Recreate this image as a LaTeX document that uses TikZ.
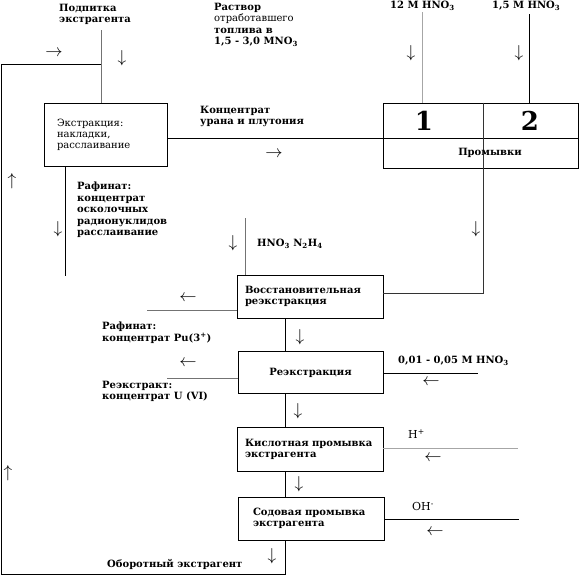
\documentclass[tikz,border=0pt]{standalone}
\usepackage{fontspec}
\setmainfont{DejaVu Serif}
\usetikzlibrary{positioning,calc}
\newcommand{\sbs}[1]{\textsubscript{#1}}
\tikzset{
  proc/.style={draw,line width=0.8pt,minimum height=43pt,inner xsep=8pt,inner ysep=0pt,text width=130pt,align=left,font=\fontsize{10}{11}\selectfont\bfseries},
  lbl/.style={inner sep=0pt,align=left,anchor=north west,font=\fontsize{10}{11.5}\selectfont\bfseries},
  ln/.style={line width=0.8pt},
  lnl/.style={line width=0.6pt,black!55},
  dir/.style={inner sep=0pt,font=\fontsize{16}{16}\selectfont},
  num/.style={inner sep=0pt,font=\fontsize{26}{26}\selectfont\bfseries},
}
\begin{document}
\begin{tikzpicture}[x=1pt,y=-1pt]
\useasboundingbox (0,0) rectangle (580,576);
% process boxes
\node[proc,minimum height=63pt,text width=97pt,inner xsep=13pt,font=\fontsize{10}{11}\selectfont] (extr) at (105.5,134.5) {Экстракция:\\накладки,\\расслаивание};
\node[draw,line width=0.8pt,minimum width=195pt,minimum height=65pt,inner sep=0pt] (wash) at (480.5,135.5) {};
\node[proc] (vos) at (310,296.5) {Восстановительная\\реэкстракция};
\node[proc,align=center,minimum height=42pt,text width=129pt] (reex) at (310.5,372.5) {Реэкстракция};
\node[proc,minimum height=44pt] (kisl) at (310,449) {Кислотная промывка\\экстрагента};
\node[proc,inner xsep=15pt,text width=116pt] (soda) at (311,518.5) {Содовая промывка\\экстрагента};
% washing columns
\coordinate (wy) at (0,138); \coordinate (wk) at (483,293);
\draw[ln] (wash.west |- wy) -- (wash.east |- wy);
\draw[ln,black!80] (wash.north -| wk) -- (wk) -- (vos.east |- wk);
\node[num] (n1) at (424,121) {1}; \node[num] (n2) at (530,121) {2};
\node[lbl,anchor=center] (wlbl) at (490,153) {Промывки};
% flows
\coordinate (feed) at (101,30); \coordinate (ret) at (101,64);
\coordinate (lpTop) at (1,64); \coordinate (lpBot) at (1,574); \coordinate (spBot) at (285,574); \coordinate (spine) at (285,0);
\draw[lnl] (feed) -- (extr.north -| feed);
\draw[ln] (ret) -- (lpTop) -- (lpBot) -- (spBot) -- (soda.south -| spBot);
\draw[ln] (vos.south -| spine) -- (reex.north -| spine);
\draw[ln] (reex.south -| spine) -- (kisl.north -| spine);
\draw[ln] (kisl.south -| spine) -- (soda.north -| spine);
\draw[ln] (extr.east |- wy) -- (wash.west |- wy);
\coordinate (a12) at (422,12); \coordinate (a15) at (529,14);
\draw[line width=0.5pt,black!35] (a12) -- (wash.north -| a12);
\draw[ln] (a15) -- (wash.north -| a15);
\coordinate (raf) at (65,276); \draw[ln] (extr.south -| raf) -- (raf);
\coordinate (red) at (245,218); \draw[lnl] (red) -- (vos.north -| red);
\coordinate (pu) at (147,310); \draw[lnl] (vos.west |- pu) -- (pu);
\coordinate (uo) at (167,378); \draw[lnl] (reex.west |- uo) -- (uo);
\coordinate (st) at (478,373); \draw[ln] (reex.east |- st) -- (st);
\coordinate (hp) at (518,448); \draw[line width=0.5pt,black!35] (kisl.east |- hp) -- (hp);
\coordinate (oh) at (519,519); \draw[ln] (soda.east |- oh) -- (oh);
% direction marks
\foreach \x/\y [count=\i] in {122/58,411/53,519/53,58/229,476/229,233/243,300/337,298/411,299/484,272/556}
  \node[dir] (dn\i) at (\x,\y) {$\downarrow$};
\foreach \x/\y [count=\i] in {188/298,188/363,431/382,433/458,435/532}
  \node[dir] (lf\i) at (\x,\y) {$\leftarrow$};
\node[dir] (rt1) at (54,53) {$\rightarrow$}; \node[dir] (rt2) at (274,154) {$\rightarrow$};
\node[dir] (up1) at (12,181) {$\uparrow$}; \node[dir] (up2) at (8,473) {$\uparrow$};
% labels
\node[lbl] (tFeed) at (59,4) {Подпитка\\экстрагента};
\node[lbl] (tFuel) at (214,3) {Раствор\\{\mdseries отработавшего}\\топлива в\\1,5 - 3,0 MNO\sbs{3}};
\node[lbl] (t12) at (390,1) {12 M HNO\sbs{3}};
\node[lbl] (t15) at (492,1) {1,5 M HNO\sbs{3}};
\node[lbl] (tConc) at (200,106) {Концентрат\\урана и плутония};
\node[lbl] (tRaf) at (77,182) {Рафинат:\\концентрат\\осколочных\\радионуклидов\\расслаивание};
\node[lbl] (tRed) at (257,239) {HNO\sbs{3} N\sbs{2}H\sbs{4}};
\node[lbl] (tPu) at (102,322) {Рафинат:\\концентрат Pu(3\textsuperscript{+})};
\node[lbl] (tStr) at (398,356) {0,01 - 0,05 M HNO\sbs{3}};
\node[lbl] (tU) at (102,381) {Реэкстракт:\\концентрат U (VI)};
\node[lbl,anchor=base west,font=\fontsize{11}{12}\selectfont] (tH) at (408,438) {H\textsuperscript{+}};
\node[lbl,anchor=base west,font=\fontsize{11}{12}\selectfont] (tOH) at (412,510) {OH\textsuperscript{-}};
\node[lbl] (tRec) at (107,559) {Оборотный экстрагент};
\end{tikzpicture}
\end{document}
